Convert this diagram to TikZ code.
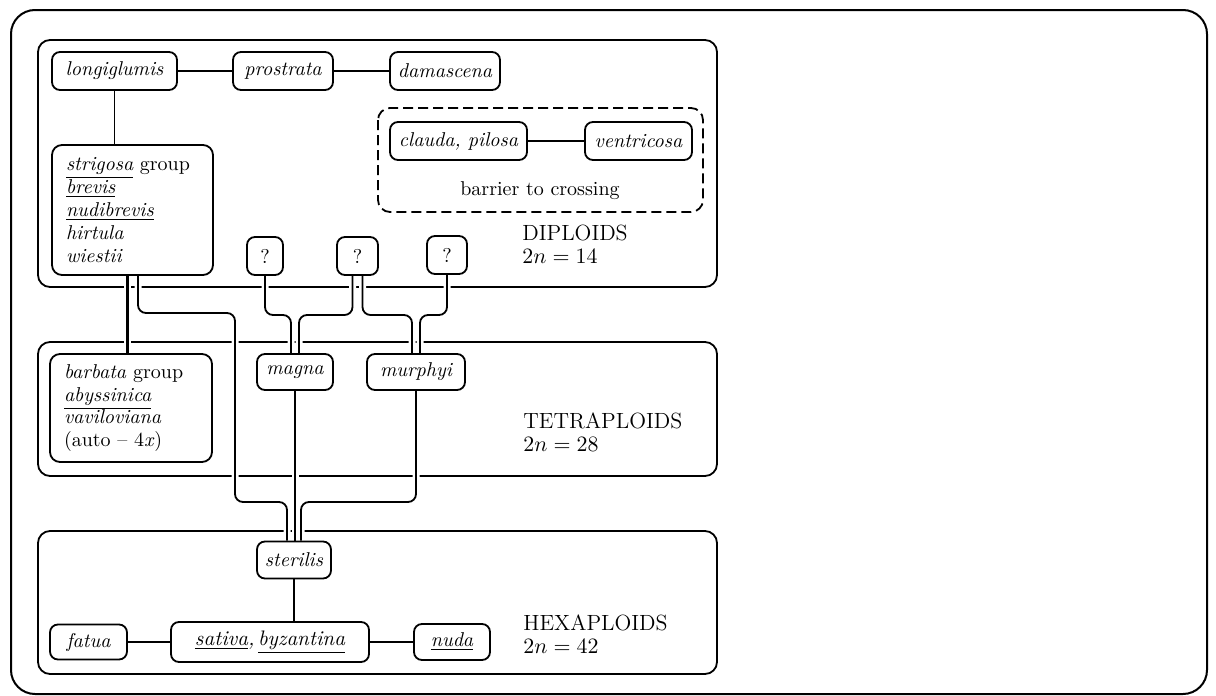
\documentclass[tikz,border=0pt]{standalone}
\usetikzlibrary{backgrounds}
\tikzset{
  taxon/.style={draw, line width=0.9pt, rounded corners=4pt, fill=white, inner sep=2pt,
    minimum height=19pt, font=\fontsize{10}{12}\selectfont\itshape},
  groupbox/.style={taxon, align=left, inner xsep=7pt, rounded corners=5pt,
    font=\fontsize{10}{11.4}\selectfont\itshape},
  panel/.style={draw, line width=0.9pt, rounded corners=6pt},
  link/.style={line width=0.9pt, rounded corners=4pt, preaction={draw=white, line width=3.5pt}},
  ploidy/.style={anchor=west, align=left, inner sep=0pt, font=\fontsize{11}{11.5}\selectfont},
}
\begin{document}
\begin{tikzpicture}[x=0.5pt, y=-0.5pt]
    \useasboundingbox (0,0) rectangle (1216,696);
    % Frame and panels
    \draw[line width=1pt, rounded corners=12pt] (11,10) rectangle (1207,694);
    \begin{scope}[on background layer]
        \draw[panel] (38,40) rectangle (717,287);
        \draw[panel] (38,342) rectangle (717,476);
        \draw[panel] (38,531) rectangle (717,674);
        \draw[panel, dash pattern=on 5pt off 2.5pt] (378,108) rectangle (703,212);
    \end{scope}

    % Diploids
    \node[taxon, minimum width=62.5pt] (longiglumis) at (114.5,71) {longiglumis};
    \node[taxon, minimum width=50pt] (prostrata) at (283,71) {prostrata};
    \node[taxon, minimum width=55pt] (damascena) at (445,71) {damascena};
    \node[taxon, minimum width=68.5pt] (clauda) at (458.5,141) {clauda, pilosa};
    \node[taxon, minimum width=53.5pt] (ventricosa) at (638.5,141) {ventricosa};
    \node[font=\fontsize{10}{12}\selectfont] (barrier) at (540,191) {barrier to crossing};
    \node[groupbox, text width=66.5pt, minimum height=65pt] (strigosa) at (132.5,210)
        {\underline{strigosa} \textup{group}\\ \underline{brevis}\\ \underline{nudibrevis}\\ hirtula\\ wiestii};
    \node[taxon, font=\fontsize{10}{12}\selectfont, minimum width=18pt] (q1) at (265,256) {?};
    \node[taxon, font=\fontsize{10}{12}\selectfont, minimum width=20.5pt] (q2) at (357.5,256) {?};
    \node[taxon, font=\fontsize{10}{12}\selectfont, minimum width=20pt] (q3) at (447,255) {?};
    \node[ploidy] (diploids) at (522,244) {DIPLOIDS\\ $2n = 14$};

    % Tetraploids
    \node[groupbox, text width=67pt, minimum height=54pt] (barbata) at (131,408)
        {barbata \textup{group}\\ \underline{abyssinica}\\ vaviloviana\\ \textup{(auto -- 4}\textit{x}\textup{)}};
    \node[taxon, minimum width=38pt, minimum height=18pt] (magna) at (295,372) {magna};
    \node[taxon, minimum width=49pt, minimum height=18pt] (murphyi) at (416,372) {murphyi};
    \node[ploidy] (tetraploids) at (523,432) {TETRAPLOIDS\\ $2n = 28$};

    % Hexaploids
    \node[taxon, minimum width=37pt, minimum height=18.5pt] (sterilis) at (294,560) {sterilis};
    \node[taxon, minimum width=99pt, minimum height=20pt, font=\fontsize{10.5}{12}\selectfont\itshape]
        (sativa) at (270,642) {\underline{sativa},\,\underline{byzantina}};
    \node[taxon, minimum width=38.5pt, minimum height=17.5pt] (fatua) at (88.5,642) {fatua};
    \node[taxon, minimum width=38pt, minimum height=18pt] (nuda) at (452,642) {\underline{nuda}};
    \node[ploidy] (hexaploids) at (523,634) {HEXAPLOIDS\\ $2n = 42$};

    % Edges
    \coordinate (s1) at ([xshift=-2.75pt]strigosa.south);
    \coordinate (s2) at ([xshift=2.75pt]strigosa.south);
    \begin{scope}[on background layer]
        \draw[link] (longiglumis) -- (prostrata);
        \draw[link] (prostrata) -- (damascena);
        \draw[link] (clauda) -- (ventricosa);
        \draw[link] (longiglumis.south) -- (longiglumis.south |- strigosa.north);
        \draw[link, line width=1.5pt] (s1) -- (s1 |- barbata.north);
        \draw[link] (s2) |- (235,313) -- (235,502) -| ([xshift=-3.5pt]sterilis.north);
        \draw[link] (q1.south) |- (291,315) -- ([xshift=-2pt]magna.north);
        \draw[link] ([xshift=-2.5pt]q2.south) |- (299,315) -- ([xshift=2pt]magna.north);
        \draw[link] ([xshift=2.5pt]q2.south) |- (412,315) -- ([xshift=-2pt]murphyi.north);
        \draw[link] (q3.south) |- (420,315) -- ([xshift=2pt]murphyi.north);
        \draw[link, line width=0.7pt] (magna.south) -- (magna.south |- sterilis.north);
        \draw[link] (murphyi.south) |- (301,502) -- ([xshift=3.5pt]sterilis.north);
        \draw[link, line width=1.4pt] (sterilis.south) -- (sterilis.south |- sativa.north);
        \draw[link] (fatua) -- (sativa);
        \draw[link] (sativa) -- (nuda);
    \end{scope}
\end{tikzpicture}
\end{document}
